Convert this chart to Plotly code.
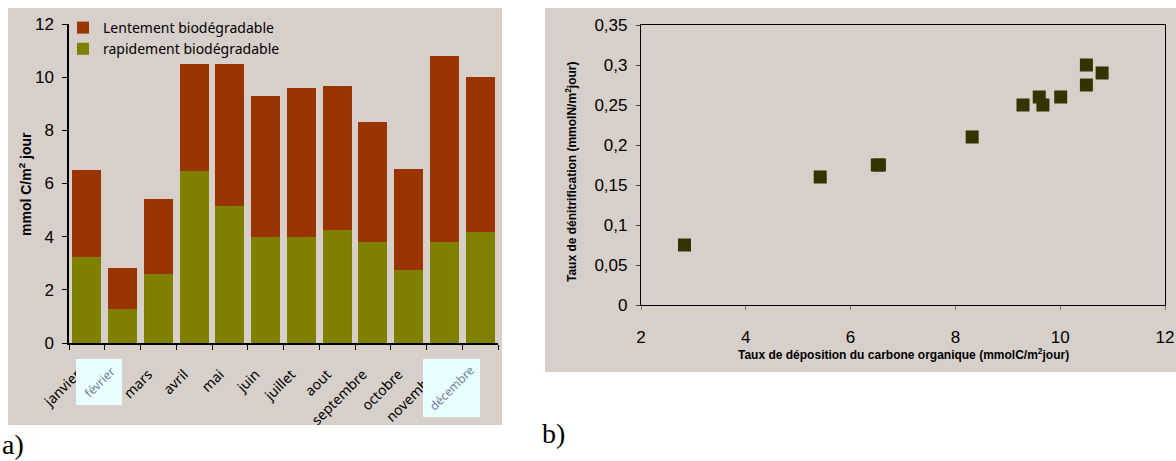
import plotly.graph_objects as go

# ---------------- data ----------------
months = ["janvier", "février", "mars", "avril", "mai", "juin", "juillet",
          "aout", "septembre", "octobre", "novembre", "décembre"]
rapide = [3.24, 1.29, 2.61, 6.48, 5.16, 4.00, 4.00, 4.26, 3.81, 2.76, 3.81, 4.18]
lent = [3.27, 1.54, 2.81, 4.02, 5.34, 5.29, 5.60, 5.41, 4.51, 3.79, 6.99, 5.83]

deposition = [6.51, 2.83, 5.42, 10.50, 10.50, 9.29, 9.60, 9.67, 8.32, 6.55, 10.80, 10.01]
denitrification = [0.175, 0.075, 0.160, 0.300, 0.275, 0.250, 0.260, 0.250, 0.210, 0.175, 0.290, 0.260]

y_ticks_a = [0, 2, 4, 6, 8, 10, 12]
x_ticks_b = [2, 4, 6, 8, 10, 12]
y_ticks_b = [0, 0.05, 0.1, 0.15, 0.2, 0.25, 0.3, 0.35]
boxed_months = ["février", "décembre"]

# ---------------- styles ----------------
W, H = 1176, 461
BG = "#d7cfc9"
BROWN = "#993300"
GREEN = "#808000"
MARK = "#333300"
CYAN = "#e9ffff"


def px(x):
    return x / W


def py(y):
    return 1 - y / H


month_labels = ["" if m in boxed_months else m for m in months]

fig = go.Figure()
fig.add_trace(go.Bar(x=months, y=rapide, name="rapidement biodégradable",
                     marker=dict(color=GREEN, line=dict(width=0)),
                     xaxis="x", yaxis="y"))
fig.add_trace(go.Bar(x=months, y=lent, name="Lentement biodégradable",
                     marker=dict(color=BROWN, line=dict(width=0)),
                     xaxis="x", yaxis="y"))
fig.add_trace(go.Scatter(x=deposition, y=denitrification, mode="markers",
                         marker=dict(symbol="square", size=13, color=MARK),
                         showlegend=False, xaxis="x2", yaxis="y2"))

shapes = [
    dict(type="rect", xref="paper", yref="paper", x0=px(8), x1=px(502),
         y0=py(425), y1=py(8), fillcolor=BG, line=dict(width=0), layer="below"),
    dict(type="rect", xref="paper", yref="paper", x0=px(545), x1=px(1176),
         y0=py(372), y1=py(8), fillcolor=BG, line=dict(width=0), layer="below"),
    # light boxes over two month labels
    dict(type="rect", xref="paper", yref="paper", x0=px(76), x1=px(122),
         y0=py(405), y1=py(359), fillcolor=CYAN, line=dict(width=0), layer="above"),
    dict(type="rect", xref="paper", yref="paper", x0=px(423), x1=px(480),
         y0=py(417), y1=py(359), fillcolor=CYAN, line=dict(width=0), layer="above"),
]


def ann(text, x, y, size, family="Liberation Sans", angle=0, bold=False,
        color="black", xanchor="center"):
    return dict(text=text, xref="paper", yref="paper", x=px(x), y=py(y),
                textangle=angle, showarrow=False, xanchor=xanchor, yanchor="middle",
                font=dict(family=family, size=size, color=color,
                          weight="bold" if bold else "normal"))


annotations = [
    ann("mmol C/m<sup>2</sup> jour", 25, 184, 14, angle=-90, bold=True),
    ann("Taux de dénitrification (mmolN/m<sup>2</sup>jour)", 571, 172, 12,
        angle=-90, bold=True),
    ann("Taux de déposition du carbone organique (mmolC/m<sup>2</sup>jour)",
        903, 354, 12, bold=True),
    ann(boxed_months[0], 99, 382, 12, family="Noto Sans", angle=-45, color="#6f7d9c"),
    ann(boxed_months[1], 451, 388, 12, family="Noto Sans", angle=-45, color="#6f7d9c"),
    ann("a)", 0, 444, 28, family="Liberation Serif", xanchor="left"),
    ann("b)", 540, 433, 28, family="Liberation Serif", xanchor="left"),
]

fig.update_layout(
    width=W, height=H,
    margin=dict(l=0, r=0, t=0, b=0, pad=0, autoexpand=False),
    paper_bgcolor="white",
    plot_bgcolor="rgba(0,0,0,0)",
    separators=", ",
    barmode="stack",
    bargap=0.19,
    showlegend=True,
    legend=dict(x=px(63), y=py(12), xanchor="left", yanchor="top",
                bgcolor="rgba(0,0,0,0)", traceorder="reversed",
                font=dict(family="Noto Sans", size=14, color="black"),
                itemwidth=30),
    xaxis=dict(domain=[px(69), px(498)], anchor="y", type="category",
               tickvals=months, ticktext=month_labels,
               showline=True, linecolor="black", linewidth=1.5,
               ticks="outside", tickson="boundaries", ticklen=5, tickcolor="black",
               tickangle=-45, showgrid=False, automargin=False,
               ticklabelstandoff=16, ticklabelshift=-10,
               tickfont=dict(family="Noto Sans", size=14, color="black")),
    yaxis=dict(domain=[py(343), py(24)], anchor="x", range=[0, 12],
               tickvals=y_ticks_a, showline=True, linecolor="black", linewidth=1.5,
               ticks="outside", ticklen=5, tickcolor="black", showgrid=False,
               zeroline=False, automargin=False, ticklabelstandoff=5,
               tickfont=dict(family="Liberation Sans", size=17, color="black")),
    xaxis2=dict(domain=[px(641), px(1165)], anchor="y2", range=[2, 12],
                tickvals=x_ticks_b, showline=True, mirror=True, linecolor="black",
                linewidth=1.2, ticks="outside", ticklen=4, tickcolor="#777777",
                showgrid=False, zeroline=False, ticklabelstandoff=12, automargin=False,
                tickfont=dict(family="Liberation Sans", size=17, color="black")),
    yaxis2=dict(domain=[py(305), py(25)], anchor="x2", range=[0, 0.35],
                tickvals=y_ticks_b, showline=True, mirror=True, linecolor="black",
                linewidth=1.2, ticks="outside", ticklen=4, tickcolor="#444444",
                showgrid=False, zeroline=False, automargin=False, ticklabelstandoff=5,
                tickfont=dict(family="Liberation Sans", size=17, color="black")),
    shapes=shapes,
    annotations=annotations,
)

fig.write_html("out.html", config={"displayModeBar": False},
               post_script="document.body.style.margin='0';document.body.style.overflow='hidden';")
